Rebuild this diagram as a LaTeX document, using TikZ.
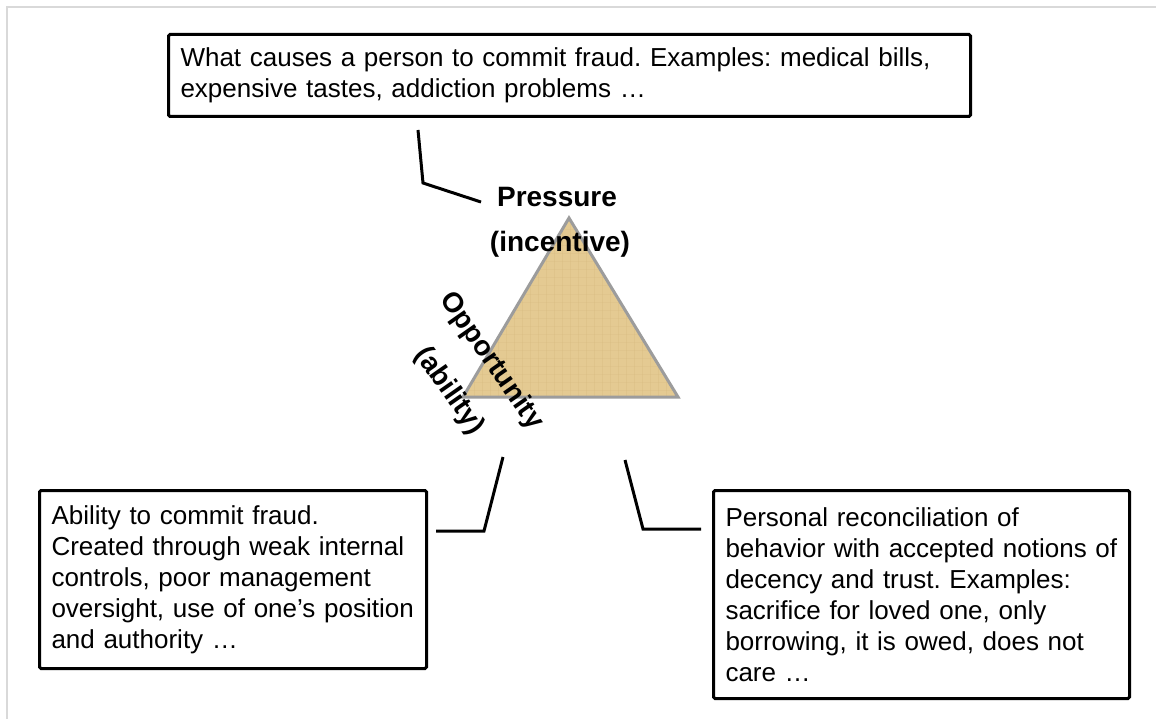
\documentclass[tikz,border=0pt]{standalone}
\usepackage{fontspec}
\setmainfont{Liberation Sans}
\frenchspacing
\definecolor{papyrus}{HTML}{E4CA92}
\definecolor{papyrusdark}{HTML}{D2B57A}
\definecolor{triedge}{HTML}{9C9C9C}
\definecolor{framegray}{HTML}{D9D9D9}
\begin{document}
\frenchspacing
\begin{tikzpicture}[x=1pt,y=-1pt,
  box/.style={draw=black, line width=3pt, fill=white, rounded corners=1.5pt,
    anchor=north west, align=left, inner xsep=12pt, inner ysep=0pt,
    font=\fontsize{26}{31}\selectfont},
  conn/.style={draw=black, line width=3pt},
  lbl/.style={font=\bfseries\fontsize{28}{34}\selectfont, inner sep=0pt}]
\useasboundingbox (0,0) rectangle (1156,719);
\fill[white] (0,0) rectangle (1156,719);
% frame
\coordinate (f1) at (7,719);
\coordinate (f2) at (7,7);
\coordinate (f3) at (1156,7);
\draw[framegray, line width=2pt] (f1) -- (f2) -- (f3);
% boxes
\node[box, minimum width=802pt, minimum height=82pt, text width=778pt] (pbox) at (167,33)
 {What causes a person to commit fraud. Examples: medical bills,\\expensive tastes, addiction problems …};
\node[box, minimum width=387pt, minimum height=178pt, text width=363pt] (obox) at (38,489)
 {Ability to commit fraud.\\Created through weak internal\\controls, poor management\\oversight, use of one’s position\\and authority …};
\node[box, minimum width=416pt, minimum height=208pt, text width=392pt] (rbox) at (712,489)
 {Personal reconciliation of\\behavior with accepted notions of\\decency and trust. Examples:\\sacrifice for loved one, only\\borrowing, it is owed, does not\\care …};
% connectors
\coordinate (pc1) at (418,130);
\coordinate (pc2) at (423,183);
\coordinate (pc3) at (481,202);
\coordinate (lc1) at (503,457);
\coordinate (lc2) at (484,531);
\coordinate (lc3) at (436,531);
\coordinate (rc1) at (625,460);
\coordinate (rc2) at (643,529);
\coordinate (rc3) at (701,529);
\draw[conn] (pc1) -- (pc2) -- (pc3);
\draw[conn] (lc1) -- (lc2) -- (lc3);
\draw[conn] (rc1) -- (rc2) -- (rc3);
% triangle
\coordinate (apex) at (569,218);
\coordinate (bl) at (463,397);
\coordinate (br) at (678,397);
\fill[papyrus] (apex) -- (br) -- (bl) -- cycle;
\begin{scope}
  \clip (apex) -- (br) -- (bl) -- cycle;
  \foreach \xx in {466,474,...,678} {
    \draw[papyrusdark, opacity=0.25, line width=1pt] (\xx,218) -- (\xx,397);
  }
  \foreach \yy in {222,230,...,397} {
    \draw[papyrusdark, opacity=0.2, line width=1pt] (463,\yy) -- (678,\yy);
  }
\end{scope}
\draw[triedge, line width=3pt, line join=miter] (apex) -- (br) -- (bl) -- cycle;
% labels
\node[lbl, anchor=base] (pressure) at (557,207) {Pressure};
\node[lbl, anchor=base] (incentive) at (560,252) {(incentive)};
\node[lbl, rotate=-55] (opportunity) at (491,361) {Opportunity};
\node[lbl, rotate=-55] (ability) at (449,391) {(ability)};
\end{tikzpicture}
\end{document}
